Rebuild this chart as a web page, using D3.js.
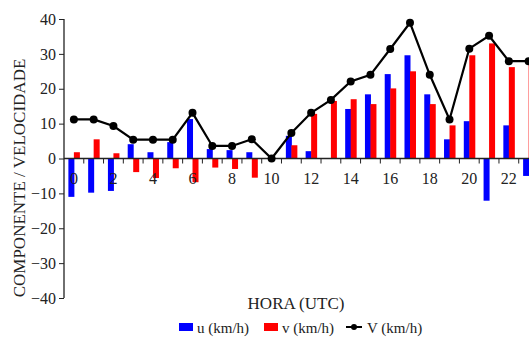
<!DOCTYPE html>
<html>
<head>
<meta charset="utf-8">
<script src="https://cdn.jsdelivr.net/npm/d3@7"></script>
<style>
  html, body { margin: 0; padding: 0; background: #fff; }
  svg { display: block; }
</style>
</head>
<body>
<svg id="chart" width="529" height="338"></svg>
<script>
// Hourly wind components and speed (km/h)
const hours = d3.range(0, 24);
const uValues = [-11.0, -9.8, -9.3, 4.1, 1.8, 4.7, 11.3, 2.7, 2.4, 1.8, 0, 6.5,
                 2.1, 0, 14.2, 18.4, 24.2, 29.6, 18.4, 5.5, 10.7, -12.1, 9.5, -5.0];
const vValues = [1.8, 5.5, 1.5, -3.9, -5.6, -2.8, -6.8, -2.6, -3.0, -5.5, 0, 3.8,
                 12.8, 16.5, 17.0, 15.6, 20.1, 25.0, 15.6, 9.5, 29.6, 33.0, 26.2, 27.0];
const speedValues = [11.2, 11.2, 9.3, 5.4, 5.4, 5.4, 13.1, 3.6, 3.6, 5.5, 0, 7.3,
                     13.1, 16.8, 22.1, 24.0, 31.4, 38.9, 24.0, 11.2, 31.5, 35.2, 27.9, 27.9];
const yTicks = [-40, -30, -20, -10, 0, 10, 20, 30, 40];
const xTickLabels = [0, 2, 4, 6, 8, 10, 12, 14, 16, 18, 20, 22];
const legendItems = ["u (km/h)", "v (km/h)", "V (km/h)"];

const FONT = "'Liberation Serif', 'Times New Roman', serif";
const INK = "#222";

const svg = d3.select("#chart");
const plot = { left: 64, right: 538.5, top: 19, bottom: 298 };

const x = d3.scaleBand().domain(hours).range([plot.left, plot.right]).paddingInner(0).paddingOuter(0);
const y = d3.scaleLinear().domain([-40, 40]).range([plot.bottom, plot.top]);
const barW = 6;
const cx = h => x(h) + x.bandwidth() / 2;

// Bars: u on the left of each hour, v on the right
const g = svg.append("g");
g.selectAll("rect.u").data(hours).join("rect")
  .attr("class", "u")
  .attr("x", h => cx(h) - barW + 0.5)
  .attr("width", barW)
  .attr("y", h => y(Math.max(0, uValues[h])))
  .attr("height", h => Math.abs(y(uValues[h]) - y(0)))
  .attr("fill", "#0000ff");
g.selectAll("rect.v").data(hours).join("rect")
  .attr("class", "v")
  .attr("x", h => cx(h))
  .attr("width", barW)
  .attr("y", h => y(Math.max(0, vValues[h])))
  .attr("height", h => Math.abs(y(vValues[h]) - y(0)))
  .attr("fill", "#ff0000");

// Y axis
const yAxis = svg.append("g")
  .attr("transform", `translate(${plot.left},0)`)
  .call(d3.axisLeft(y).tickValues(yTicks).tickSize(5).tickPadding(3).tickFormat(d3.format("d")));
yAxis.select(".domain").attr("stroke", INK).attr("stroke-width", 1.3)
  .attr("d", `M0,${plot.top}V${plot.bottom}`);
yAxis.selectAll(".tick line").attr("stroke", INK);
yAxis.selectAll(".tick text").attr("font-size", 16).attr("fill", INK).style("font-family", FONT);

// X axis along zero line, ticks at hour boundaries
const xAxisG = svg.append("g").attr("transform", `translate(0,${y(0)})`);
xAxisG.append("line").attr("x1", plot.left).attr("x2", plot.right)
  .attr("stroke", INK).attr("stroke-width", 1.3);
xAxisG.selectAll("line.tk").data(hours.slice(1)).join("line")
  .attr("class", "tk")
  .attr("x1", h => x(h)).attr("x2", h => x(h))
  .attr("y1", 0).attr("y2", 5).attr("stroke", INK);
xAxisG.selectAll("text").data(xTickLabels).join("text")
  .attr("x", h => cx(h))
  .attr("y", 25)
  .attr("text-anchor", "middle")
  .style("font-family", FONT).attr("fill", INK)
  .attr("font-size", 16)
  .text(d => d);

// Speed line with markers
const line = d3.line().x(h => cx(h)).y(h => y(speedValues[h]));
svg.append("path").datum(hours).attr("d", line)
  .attr("fill", "none").attr("stroke", "#000").attr("stroke-width", 2.2);
svg.selectAll("circle.pt").data(hours).join("circle")
  .attr("class", "pt")
  .attr("cx", h => cx(h))
  .attr("cy", h => y(speedValues[h]))
  .attr("r", 4).attr("fill", "#000");

// Axis titles
svg.append("text").attr("x", 296).attr("y", 309).attr("text-anchor", "middle")
  .style("font-family", FONT).attr("fill", INK)
  .attr("font-size", 17).text("HORA (UTC)");
svg.append("text").attr("transform", "translate(25,178) rotate(-90)")
  .attr("text-anchor", "middle").style("font-family", FONT).attr("fill", INK)
  .attr("font-size", 17).text("COMPONENTE / VELOCIDADE");

// Legend
const legend = svg.append("g").style("font-family", FONT).attr("fill", INK).attr("font-size", 15);
legend.append("rect").attr("x", 179).attr("y", 323).attr("width", 14).attr("height", 8).attr("fill", "#0000ff");
legend.append("text").attr("x", 197).attr("y", 333).text(legendItems[0]);
legend.append("rect").attr("x", 264).attr("y", 323).attr("width", 14).attr("height", 8).attr("fill", "#ff0000");
legend.append("text").attr("x", 282).attr("y", 333).text(legendItems[1]);
legend.append("line").attr("x1", 346).attr("x2", 362).attr("y1", 327).attr("y2", 327)
  .attr("stroke", "#000").attr("stroke-width", 2);
legend.append("circle").attr("cx", 354).attr("cy", 327).attr("r", 3).attr("fill", "#000");
legend.append("text").attr("x", 367).attr("y", 333).text(legendItems[2]);
</script>
</body>
</html>
